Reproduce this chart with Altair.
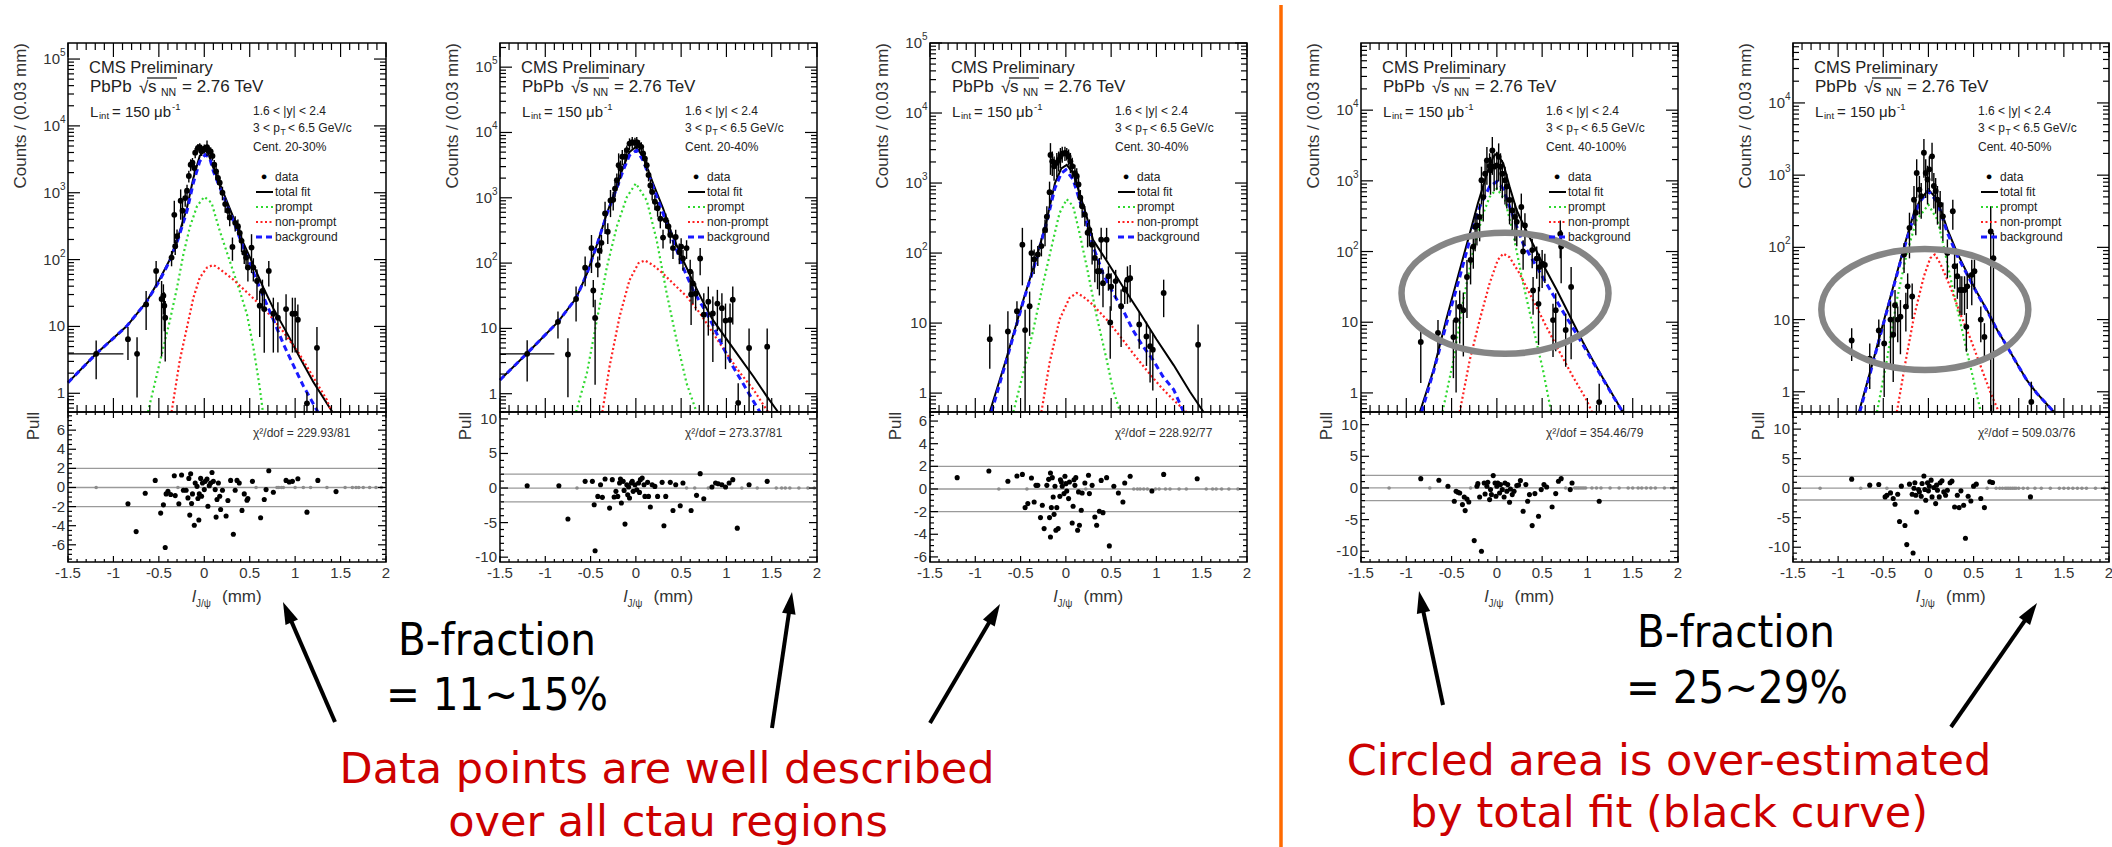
import math
import altair as alt
import pandas as pd

alt.data_transformers.disable_max_rows()

W, H = 2112, 847
UP_TOP, UP_BOT, PULL_BOT = 43, 412, 562
L_MIN, L_MAX = -1.5, 2.0
ROOT_FONT = "Liberation Sans"
INK = "#222222"

# ------------------------------------------------------------------
# Measurements for each centrality bin
# data points: (l_J/psi [mm], log10 counts, log10 of the error bar top)
# curves:      (l_J/psi [mm], log10 counts)
# pulls:       (l_J/psi [mm], pull); empty bins sit at pull 0
# ------------------------------------------------------------------
P1_POINTS = [(-1.19,0.59,0.79),(-0.84,0.81,0.99),(-0.74,0.59,0.84),(-0.64,1.33,1.53),(-0.53,1.83,1.98),
             (-0.47,1.41,1.68),(-0.45,1.46,1.63),(-0.44,1.31,1.51),(-0.43,1.13,1.38),(-0.36,2.03,2.13),
             (-0.32,2.20,2.30),(-0.33,2.67,2.88),(-0.30,2.35,2.45),(-0.26,2.88,3.05),(-0.24,2.73,2.88),
             (-0.21,2.92,3.02),(-0.19,3.03,3.12),(-0.17,3.25,3.33),(-0.15,3.42,3.50),(-0.13,3.45,3.52),
             (-0.11,3.37,3.45),(-0.10,3.60,3.67),(-0.07,3.67,3.73),(-0.05,3.68,3.74),(-0.03,3.62,3.68),
             (0.00,3.66,3.72),(0.03,3.68,3.78),(0.05,3.63,3.69),(0.07,3.62,3.68),(0.09,3.55,3.61),
             (0.11,3.42,3.49),(0.13,3.32,3.40),(0.15,3.22,3.30),(0.17,3.15,3.23),(0.20,3.00,3.09),
             (0.23,2.83,2.93),(0.26,2.73,2.83),(0.28,2.63,2.73),(0.31,2.19,2.33),(0.34,2.55,2.65),
             (0.37,2.50,2.60),(0.39,2.40,2.50),(0.41,2.28,2.40),(0.44,2.10,2.22),(0.46,2.03,2.15),
             (0.48,1.88,2.02),(0.52,2.18,2.38),(0.54,1.88,2.02),(0.58,1.68,1.85),(0.61,1.31,1.53),
             (0.64,1.53,1.70),(0.66,1.26,1.51),(0.71,1.83,1.98),(0.76,1.19,1.43),(0.81,1.13,1.36),
             (0.90,1.26,1.48),(0.97,1.19,1.43),(1.00,1.19,1.43),(1.03,1.10,1.33),(1.13,-0.15,0.02),
             (1.24,0.68,0.99)]
P1_TOTAL = [(-1.50,0.16),(-1.19,0.59),(-0.85,1.01),(-0.64,1.36),(-0.49,1.71),(-0.38,2.00),(-0.29,2.33),
            (-0.19,2.78),(-0.12,3.22),(-0.05,3.55),(0.00,3.63),(0.04,3.60),(0.10,3.37),(0.21,3.00),
            (0.32,2.63),(0.43,2.25),(0.54,1.92),(0.65,1.58),(0.76,1.27),(0.91,0.90),(1.05,0.54),
            (1.20,0.17),(1.41,-0.28)]
P1_BKG = [(-1.50,0.16),(-1.19,0.59),(-0.85,1.01),(-0.64,1.36),(-0.49,1.69),(-0.38,1.98),(-0.29,2.30),
          (-0.19,2.73),(-0.12,3.15),(-0.05,3.47),(0.01,3.57),(0.06,3.52),(0.10,3.32),(0.21,2.95),
          (0.32,2.58),(0.43,2.18),(0.54,1.81),(0.65,1.45),(0.76,1.10),(0.87,0.74),(0.98,0.42),
          (1.09,0.11),(1.25,-0.28)]
P1_PROMPT = [(-0.62,-0.28),(-0.52,0.29),(-0.45,0.69),(-0.38,1.08),(-0.30,1.58),(-0.23,2.08),(-0.16,2.48),
             (-0.08,2.80),(0.00,2.94),(0.08,2.85),(0.17,2.43),(0.28,1.98),(0.39,1.53),(0.47,1.18),
             (0.54,0.69),(0.61,0.09),(0.645,-0.28)]
P1_NONPROMPT = [(-0.36,-0.28),(-0.27,0.49),(-0.19,0.99),(-0.12,1.43),(-0.05,1.73),(0.03,1.88),(0.10,1.92),
                (0.17,1.86),(0.32,1.70),(0.54,1.42),(0.69,1.22),(0.87,0.92),(1.05,0.58),(1.24,0.15),
                (1.35,-0.10),(1.40,-0.28)]
P1_PULL = [(-0.84,-1.71),(-0.75,-4.62),(-0.65,-0.61),(-0.54,0.74),(-0.48,-2.68),(-0.45,-1.82),(-0.43,-6.28),
           (-0.42,-0.67),(-0.40,-0.40),(-0.37,-0.74),(-0.33,1.23),(-0.32,-0.85),(-0.28,-1.71),(-0.25,1.30),
           (-0.23,-0.29),(-0.20,-0.29),(-0.18,-1.09),(-0.17,0.95),(-0.16,-2.89),(-0.15,1.44),(-0.14,-1.68),
           (-0.13,-0.67),(-0.11,-3.96),(-0.10,0.47),(-0.08,0.12),(-0.07,-1.16),(-0.06,-3.41),(-0.055,-0.67),
           (-0.04,0.95),(-0.03,-0.92),(-0.02,0.47),(0.00,-0.22),(0.01,0.64),(0.03,0.88),(0.04,-1.96),
           (0.055,0.19),(0.07,0.47),(0.085,1.57),(0.10,0.64),(0.12,-0.22),(0.13,-3.10),(0.14,-1.26),
           (0.155,0.47),(0.17,-0.92),(0.18,-2.30),(0.20,-0.29),(0.24,-2.99),(0.26,-1.37),(0.29,0.74),
           (0.32,-4.90),(0.34,-0.29),(0.36,0.74),(0.385,0.47),(0.415,-2.40),(0.44,-0.67),(0.47,-1.33),
           (0.48,-1.16),(0.53,0.64),(0.62,-3.17),(0.66,-1.26),(0.68,-0.22),(0.71,1.75),(0.76,-0.50),
           (0.90,0.74),(0.935,0.57),(0.97,0.64),(1.03,0.92),(1.13,-2.58),(1.25,0.74),(1.45,-0.43)]
P1_EMPTY = [-1.19,-0.29,0.57,0.80,0.82,0.85,0.87,1.00,1.09,1.17,1.35,1.55,1.63,1.67,1.70,1.75,1.82,1.89,1.95]

P2_POINTS = [(-1.20,0.61,0.82),(-0.86,1.10,1.26),(-0.75,0.60,0.85),(-0.66,1.45,1.64),(-0.56,1.93,2.10),
             (-0.49,2.23,2.43),(-0.47,1.58,1.74),(-0.45,1.16,1.44),(-0.42,1.97,2.10),(-0.40,2.19,2.30),
             (-0.38,2.31,2.43),(-0.34,2.76,2.94),(-0.31,2.48,2.61),(-0.28,2.96,3.12),(-0.25,2.97,3.09),
             (-0.23,3.14,3.24),(-0.21,3.27,3.37),(-0.19,3.50,3.68),(-0.17,3.45,3.57),(-0.15,3.63,3.73),
             (-0.12,3.63,3.72),(-0.10,3.73,3.80),(-0.07,3.83,3.91),(-0.04,3.85,3.93),(-0.01,3.84,3.92),
             (0.01,3.85,3.93),(0.04,3.80,3.88),(0.06,3.78,3.85),(0.08,3.68,3.75),(0.10,3.60,3.68),
             (0.12,3.50,3.58),(0.14,3.35,3.43),(0.16,3.19,3.28),(0.18,3.09,3.19),(0.21,2.94,3.04),
             (0.24,2.84,2.94),(0.27,2.68,2.79),(0.30,2.39,2.51),(0.33,2.66,2.76),(0.36,2.56,2.66),
             (0.38,2.43,2.53),(0.41,2.23,2.35),(0.44,2.40,2.51),(0.48,2.17,2.30),(0.50,2.25,2.38),
             (0.52,2.07,2.20),(0.56,2.23,2.35),(0.60,1.87,2.05),(0.61,1.52,1.74),(0.63,1.69,1.87),
             (0.66,1.53,1.69),(0.71,2.07,2.23),(0.75,1.21,1.54),(0.80,1.41,1.64),(0.85,1.23,1.49),
             (0.90,1.38,1.59),(0.95,1.31,1.54),(0.99,1.12,1.38),(1.04,1.13,1.38),(1.07,1.44,1.64),
             (1.13,-0.14,0.16),(1.25,0.70,1.00),(1.45,0.72,1.00)]
P2_TOTAL = [(-1.50,0.21),(-1.20,0.62),(-0.86,1.10),(-0.66,1.46),(-0.54,1.84),(-0.43,2.28),(-0.32,2.76),
            (-0.21,3.19),(-0.14,3.47),(-0.07,3.70),(0.00,3.78),(0.08,3.63),(0.19,3.22),(0.30,2.84),
            (0.41,2.40),(0.52,2.05),(0.63,1.72),(0.74,1.41),(0.85,1.13),(1.00,0.84),(1.15,0.55),
            (1.30,0.26),(1.44,-0.03),(1.57,-0.28)]
P2_BKG = [(-1.50,0.21),(-1.20,0.62),(-0.86,1.10),(-0.66,1.46),(-0.54,1.84),(-0.43,2.28),(-0.32,2.75),
          (-0.21,3.15),(-0.14,3.42),(-0.07,3.65),(0.01,3.73),(0.08,3.57),(0.19,3.17),(0.30,2.76),
          (0.41,2.35),(0.52,1.94),(0.63,1.59),(0.74,1.33),(0.85,1.05),(0.96,0.72),(1.07,0.42),
          (1.19,0.14),(1.30,-0.12),(1.37,-0.28)]
P2_PROMPT = [(-0.66,-0.28),(-0.54,0.32),(-0.43,1.13),(-0.32,1.94),(-0.21,2.56),(-0.10,3.01),(0.00,3.22),
             (0.12,2.96),(0.23,2.35),(0.34,1.54),(0.45,0.82),(0.56,0.16),(0.67,-0.28)]
P2_NONPROMPT = [(-0.37,-0.28),(-0.29,0.42),(-0.18,1.18),(-0.07,1.74),(0.03,2.00),(0.10,2.04),(0.19,1.97),
                (0.30,1.84),(0.41,1.69),(0.56,1.49),(0.71,1.23),(0.85,0.93),(1.00,0.62),(1.15,0.32),
                (1.30,0.06),(1.46,-0.28)]
P2_PULL = [(-1.20,0.34),(-0.85,0.34),(-0.75,-4.49),(-0.56,0.97),(-0.48,0.97),(-0.46,-2.42),(-0.45,-9.08),
           (-0.42,-1.21),(-0.39,0.48),(-0.37,-1.35),(-0.34,1.30),(-0.29,-2.90),(-0.26,1.21),(-0.24,-1.30),
           (-0.22,-0.48),(-0.20,-1.21),(-0.18,0.72),(-0.17,1.30),(-0.16,-2.17),(-0.14,0.97),(-0.13,-0.34),
           (-0.12,-5.22),(-0.10,0.48),(-0.09,-0.97),(-0.08,0.14),(-0.07,-1.45),(-0.05,0.72),(-0.04,0.97),
           (-0.03,-0.48),(-0.01,0.48),(0.01,-0.24),(0.03,0.72),(0.04,-0.63),(0.05,1.21),(0.07,1.45),
           (0.09,0.48),(0.10,-1.21),(0.13,0.82),(0.14,-1.21),(0.16,-2.75),(0.18,0.48),(0.21,0.24),
           (0.24,-1.21),(0.29,0.82),(0.31,-5.46),(0.33,-1.21),(0.38,0.82),(0.41,-3.24),(0.44,0.48),
           (0.49,-2.56),(0.52,0.72),(0.61,-3.24),(0.67,-1.06),(0.71,2.08),(0.75,-1.55),(0.84,0.14),
           (0.88,0.72),(0.91,0.63),(0.95,0.48),(0.99,0.14),(1.03,0.72),(1.07,1.21),(1.12,-5.80),
           (1.25,0.48),(1.45,0.97)]
P2_EMPTY = [-0.65,0.56,0.65,0.80,1.17,1.34,1.55,1.61,1.65,1.70,1.80,1.90,1.97]

P3_POINTS = [(-0.84,0.77,0.98),(-0.64,0.88,1.17),(-0.54,1.17,1.31),(-0.48,2.12,2.36),(-0.45,0.90,1.19),
             (-0.40,1.24,1.45),(-0.38,2.00,2.19),(-0.35,1.91,2.05),(-0.31,1.98,2.10),(-0.27,2.10,2.21),
             (-0.23,2.33,2.48),(-0.21,2.52,2.67),(-0.18,2.87,3.02),(-0.17,3.40,3.57),(-0.15,3.31,3.45),
             (-0.13,3.24,3.38),(-0.10,3.29,3.43),(-0.08,3.33,3.45),(-0.06,3.38,3.50),(-0.04,3.42,3.52),
             (-0.01,3.43,3.52),(0.01,3.42,3.50),(0.03,3.38,3.48),(0.05,3.31,3.43),(0.07,3.24,3.36),
             (0.10,3.14,3.26),(0.12,3.10,3.21),(0.14,2.98,3.10),(0.16,2.79,2.90),(0.18,2.67,2.79),
             (0.21,2.55,2.67),(0.24,2.29,2.43),(0.26,2.33,2.48),(0.29,2.12,2.29),(0.32,1.93,2.12),
             (0.35,1.74,1.90),(0.37,1.74,1.93),(0.39,2.19,2.36),(0.41,1.57,1.76),(0.45,2.19,2.36),
             (0.47,1.67,1.81),(0.49,1.01,1.24),(0.50,1.52,1.71),(0.55,1.60,1.76),(0.61,1.24,1.48),
             (0.65,1.48,1.62),(0.68,1.62,1.81),(0.71,1.64,1.83),(0.81,0.98,1.17),(0.89,0.81,1.02),
             (0.93,0.67,0.90),(0.96,0.62,0.86),(1.08,1.43,1.62),(1.46,0.69,0.98)]
P3_TOTAL = [(-0.84,-0.27),(-0.66,0.48),(-0.47,1.33),(-0.32,1.95),(-0.21,2.48),(-0.12,3.00),(-0.05,3.21),
            (0.01,3.26),(0.08,3.14),(0.15,2.86),(0.23,2.52),(0.30,2.19),(0.45,1.89),(0.63,1.52),
            (0.82,1.14),(1.00,0.77),(1.19,0.40),(1.37,0.02),(1.52,-0.27)]
P3_BKG = [(-0.82,-0.27),(-0.66,0.45),(-0.47,1.31),(-0.32,1.93),(-0.21,2.45),(-0.12,2.93),(-0.05,3.14),
          (0.00,3.19),(0.08,3.05),(0.15,2.76),(0.23,2.43),(0.30,2.10),(0.41,1.71),(0.52,1.43),
          (0.63,1.19),(0.74,0.90),(0.85,0.67),(0.96,0.48),(1.07,0.24),(1.19,0.05),(1.30,-0.27)]
P3_PROMPT = [(-0.58,-0.27),(-0.47,0.29),(-0.36,0.90),(-0.25,1.57),(-0.14,2.19),(-0.07,2.57),(0.01,2.77),
             (0.08,2.67),(0.15,2.29),(0.23,1.81),(0.34,1.10),(0.45,0.48),(0.52,0.05),(0.60,-0.27)]
P3_NONPROMPT = [(-0.27,-0.27),(-0.18,0.43),(-0.07,1.05),(0.04,1.36),(0.12,1.43),(0.19,1.38),(0.30,1.26),
                (0.45,1.05),(0.60,0.81),(0.74,0.57),(0.89,0.33),(1.04,0.10),(1.19,-0.10),(1.33,-0.27)]
P3_PULL = [(-1.20,1.00),(-0.85,1.59),(-0.64,0.68),(-0.54,1.15),(-0.48,1.29),(-0.45,-1.65),(-0.42,-1.29),
           (-0.38,0.97),(-0.35,-1.15),(-0.33,0.32),(-0.31,0.32),(-0.28,-2.53),(-0.26,-1.44),(-0.24,-3.50),
           (-0.21,0.32),(-0.19,0.85),(-0.18,-2.53),(-0.17,1.41),(-0.17,-4.24),(-0.16,-1.65),(-0.15,1.00),
           (-0.14,-0.71),(-0.13,-2.24),(-0.12,0.24),(-0.11,-3.65),(-0.10,-1.65),(-0.085,-3.50),(-0.066,-0.65),
           (-0.06,0.82),(-0.05,0.62),(-0.04,0.24),(-0.02,-0.41),(-0.01,1.12),(0.00,0.47),(0.01,-0.18),
           (0.03,-0.85),(0.04,0.62),(0.07,-3.00),(0.08,-1.53),(0.09,0.82),(0.10,0.32),(0.11,1.00),
           (0.13,-3.65),(0.14,-0.26),(0.15,-3.21),(0.17,-1.88),(0.18,-0.35),(0.21,0.53),(0.25,1.21),
           (0.26,-0.41),(0.29,0.32),(0.32,-2.47),(0.34,-3.21),(0.37,-1.97),(0.39,0.76),(0.41,-2.09),
           (0.45,1.00),(0.48,-5.03),(0.53,0.24),(0.58,-0.35),(0.63,-1.15),(0.65,0.53),(0.71,1.12),
           (0.95,-0.18),(1.08,1.29),(1.45,0.91)]
P3_EMPTY = [-0.74,-0.43,0.22,0.75,0.79,0.82,0.86,0.90,0.99,1.03,1.10,1.15,1.25,1.33,1.55,1.62,1.66,1.72,1.80,1.90]

P4_POINTS = [(-0.84,0.72,0.96),(-0.65,0.85,1.03),(-0.48,0.79,1.03),(-0.45,1.03,1.31),(-0.41,1.22,1.45),
             (-0.37,1.17,1.42),(-0.33,1.64,1.88),(-0.29,1.88,2.07),(-0.26,2.07,2.25),(-0.24,2.35,2.54),
             (-0.22,2.37,2.54),(-0.19,2.49,2.68),(-0.17,3.01,3.20),(-0.15,2.77,2.96),(-0.13,3.10,3.29),
             (-0.11,3.29,3.48),(-0.08,3.21,3.39),(-0.07,3.15,3.34),(-0.05,3.43,3.62),(-0.03,3.20,3.39),
             (0.00,3.22,3.41),(0.02,3.34,3.53),(0.04,3.20,3.39),(0.06,3.10,3.29),(0.09,3.01,3.20),
             (0.11,2.92,3.10),(0.14,2.73,2.92),(0.17,2.58,2.77),(0.20,2.49,2.68),(0.22,2.42,2.61),
             (0.27,2.63,2.82),(0.29,2.00,2.16),(0.31,2.37,2.54),(0.39,2.02,2.18),(0.40,1.45,1.64),
             (0.44,1.90,2.07),(0.46,1.26,1.50),(0.47,1.78,1.97),(0.50,1.83,2.02),(0.53,1.81,1.97),
             (0.62,1.03,1.26),(0.65,1.17,1.41),(0.70,2.25,2.44),(0.71,2.07,2.30),(0.76,0.89,1.12),
             (0.82,1.50,1.78),(1.13,-0.13,0.13)]
P4_TOTAL = [(-0.85,-0.28),(-0.70,0.32),(-0.56,1.03),(-0.41,1.74),(-0.30,2.25),(-0.21,2.68),(-0.11,3.10),
            (-0.04,3.34),(0.00,3.39),(0.07,3.25),(0.14,2.92),(0.22,2.58),(0.33,2.28),(0.44,2.00),
            (0.55,1.72),(0.66,1.46),(0.77,1.18),(0.84,1.00),(0.95,0.72),(1.06,0.46),(1.17,0.21),
            (1.28,-0.03),(1.39,-0.28)]
P4_BKG = [(-0.83,-0.28),(-0.70,0.30),(-0.56,0.96),(-0.41,1.64),(-0.30,2.16),(-0.19,2.63),(-0.08,2.92),
          (0.00,2.99),(0.07,2.89),(0.18,2.49),(0.29,2.11),(0.40,1.87),(0.51,1.63),(0.62,1.39),
          (0.73,1.15),(0.84,0.92),(0.95,0.68),(1.06,0.44),(1.17,0.20),(1.28,-0.04),(1.39,-0.28)]
P4_PROMPT = [(-0.60,-0.28),(-0.48,0.46),(-0.37,1.31),(-0.26,2.02),(-0.15,2.54),(-0.08,2.77),(0.00,2.89),
             (0.09,2.73),(0.18,2.25),(0.29,1.55),(0.40,0.93),(0.51,0.32),(0.60,-0.28)]
P4_NONPROMPT = [(-0.41,-0.28),(-0.30,0.46),(-0.19,1.03),(-0.08,1.55),(0.01,1.88),(0.07,1.97),(0.14,1.92),
                (0.25,1.69),(0.40,1.31),(0.55,0.93),(0.70,0.56),(0.84,0.23),(0.99,-0.10),(1.05,-0.28)]
P4_PULL = [(-0.84,1.47),(-0.64,1.21),(-0.54,0.26),(-0.47,-2.11),(-0.45,-0.53),(-0.43,-0.68),(-0.41,-0.79),
           (-0.38,-2.63),(-0.36,-1.42),(-0.35,-3.58),(-0.33,-1.74),(-0.31,-2.21),(-0.25,-8.32),(-0.22,0.26),
           (-0.21,0.68),(-0.19,-1.42),(-0.17,-10.0),(-0.14,0.79),(-0.13,-0.95),(-0.11,0.26),(-0.10,0.89),
           (-0.08,-1.84),(-0.07,-0.26),(-0.06,-1.05),(-0.04,1.95),(-0.02,0.79),(-0.01,-1.32),(0.00,0.26),
           (0.01,0.79),(0.03,-0.79),(0.04,0.53),(0.06,-0.26),(0.08,-1.42),(0.09,0.79),(0.11,-0.53),
           (0.12,0.53),(0.14,-2.26),(0.15,-0.16),(0.17,-1.05),(0.19,-0.53),(0.22,0.37),(0.24,0.47),
           (0.26,1.16),(0.29,-3.68),(0.32,0.53),(0.34,-2.11),(0.36,-1.05),(0.39,-5.95),(0.42,-0.89),
           (0.46,-4.47),(0.49,-0.26),(0.52,0.53),(0.55,0.16),(0.61,-3.00),(0.65,-0.89),(0.68,1.05),
           (0.71,1.47),(0.81,-0.26),(0.83,0.79),(1.13,-2.11)]
P4_EMPTY = [-1.19,-0.74,-0.29,0.76,0.86,0.88,0.90,0.92,0.94,0.96,0.98,1.05,1.10,1.15,1.25,1.35,1.45,
            1.50,1.56,1.60,1.65,1.70,1.75,1.85,1.95]

P5_POINTS = [(-0.85,0.71,0.88),(-0.65,0.46,0.67),(-0.55,0.85,1.00),(-0.49,0.67,0.93),(-0.42,1.00,1.25),
             (-0.39,0.79,1.04),(-0.37,1.20,1.41),(-0.34,1.00,1.18),(-0.31,1.04,1.27),(-0.27,1.90,2.06),
             (-0.25,1.18,1.37),(-0.23,1.46,1.64),(-0.21,2.27,2.48),(-0.18,1.32,1.50),(-0.16,2.66,2.85),
             (-0.14,2.48,2.66),(-0.13,3.03,3.22),(-0.10,2.80,2.99),(-0.08,2.71,2.89),(-0.05,3.31,3.50),
             (-0.03,3.03,3.22),(-0.01,2.94,3.13),(0.01,3.08,3.26),(0.04,3.26,3.45),(0.06,2.85,3.03),
             (0.08,2.78,2.96),(0.10,2.66,2.85),(0.13,2.59,2.78),(0.16,2.43,2.62),(0.21,1.92,2.11),
             (0.27,2.50,2.66),(0.29,1.74,1.92),(0.32,1.60,1.78),(0.35,1.41,1.60),(0.37,1.41,1.60),
             (0.40,1.41,1.60),(0.42,0.90,1.09),(0.43,1.46,1.64),(0.48,1.62,1.83),(0.51,1.67,1.83),
             (0.58,1.00,1.18),(0.62,0.76,0.95),(0.69,2.22,2.57),(0.72,1.85,2.20),(1.14,-0.14,0.14)]
P5_TOTAL = [(-0.77,-0.29),(-0.64,0.30),(-0.49,1.00),(-0.38,1.50),(-0.27,2.01),(-0.16,2.48),(-0.09,2.66),
            (0.00,2.80),(0.10,2.66),(0.21,2.25),(0.32,1.92),(0.43,1.64),(0.54,1.37),(0.65,1.13),
            (0.76,0.86),(0.87,0.63),(0.98,0.39),(1.09,0.16),(1.20,-0.02),(1.39,-0.29)]
P5_BKG = [(-0.76,-0.29),(-0.64,0.28),(-0.49,0.98),(-0.38,1.48),(-0.27,1.98),(-0.16,2.44),(-0.09,2.64),
          (0.00,2.78),(0.10,2.62),(0.21,2.20),(0.32,1.88),(0.43,1.62),(0.54,1.36),(0.65,1.12),
          (0.76,0.86),(0.87,0.63),(0.98,0.39),(1.09,0.16),(1.20,-0.02),(1.39,-0.29)]
P5_PROMPT = [(-0.57,-0.29),(-0.46,0.44),(-0.35,1.27),(-0.24,1.92),(-0.13,2.38),(0.00,2.59),(0.10,2.38),
             (0.17,2.01),(0.28,1.37),(0.39,0.76),(0.50,0.16),(0.58,-0.29)]
P5_NONPROMPT = [(-0.35,-0.29),(-0.25,0.44),(-0.16,1.04),(-0.05,1.60),(0.02,1.85),(0.07,1.90),(0.13,1.78),
                (0.24,1.46),(0.35,1.09),(0.47,0.72),(0.58,0.35),(0.69,-0.02),(0.78,-0.29)]
P5_PULL = [(-0.85,1.53),(-0.65,0.51),(-0.55,0.63),(-0.48,-1.48),(-0.46,-1.19),(-0.42,-0.80),(-0.39,-1.76),
           (-0.37,-2.73),(-0.34,-1.02),(-0.32,-5.63),(-0.30,0.34),(-0.26,-6.31),(-0.24,-9.55),(-0.21,0.68),
           (-0.18,-1.02),(-0.17,-10.97),(-0.16,0.00),(-0.15,0.91),(-0.14,-1.19),(-0.13,-4.03),(-0.11,-0.23),
           (-0.10,-0.63),(-0.08,-1.36),(-0.07,0.80),(-0.05,2.05),(-0.04,-0.23),(-0.03,-2.05),(-0.01,0.91),
           (0.00,-0.45),(0.01,0.34),(0.03,1.36),(0.04,-1.48),(0.06,0.11),(0.08,-2.61),(0.09,0.51),
           (0.10,-0.34),(0.12,-1.48),(0.13,0.91),(0.15,1.25),(0.17,-0.63),(0.19,-1.19),(0.21,-0.34),
           (0.24,0.91),(0.26,1.19),(0.29,-3.18),(0.32,-1.19),(0.34,-3.30),(0.36,-0.45),(0.39,-2.90),
           (0.41,-8.47),(0.44,-1.36),(0.47,-2.16),(0.50,0.34),(0.53,0.68),(0.58,-1.76),(0.62,-3.30),
           (0.68,1.08),(0.71,0.97),(1.13,-1.48)]
P5_EMPTY = [-1.20,-0.75,-0.46,0.65,0.75,0.79,0.82,0.85,0.87,0.89,0.91,0.93,0.95,0.97,1.00,1.05,1.10,
            1.18,1.25,1.35,1.45,1.50,1.55,1.60,1.65,1.70,1.75,1.85,1.95]

CENTRALITY = ["Cent. 20-30%", "Cent. 20-40%", "Cent. 30-40%", "Cent. 40-100%", "Cent. 40-50%"]
CHI2 = ["229.93/81", "273.37/81", "228.92/77", "354.46/79", "509.03/76"]
X_TICK_LABELS = [-1.5, -1.0, -0.5, 0.0, 0.5, 1.0, 1.5, 2.0]

PANELS = [
    dict(x0=68, x1=386, up=(-0.28, 5.24), pull=(-7.8, 7.9), pmaj=2, pmin=0.5,
         points=P1_POINTS, wide=(-1.5, -0.89, 0.59), total=P1_TOTAL, prompt=P1_PROMPT,
         nonprompt=P1_NONPROMPT, bkg=P1_BKG, pulls=P1_PULL, empty=P1_EMPTY, ring=None),
    dict(x0=500, x1=817, up=(-0.28, 5.37), pull=(-10.7, 11.0), pmaj=5, pmin=1,
         points=P2_POINTS, wide=(-1.5, -0.90, 0.61), total=P2_TOTAL, prompt=P2_PROMPT,
         nonprompt=P2_NONPROMPT, bkg=P2_BKG, pulls=P2_PULL, empty=P2_EMPTY, ring=None),
    dict(x0=930, x1=1247, up=(-0.27, 5.0), pull=(-6.45, 6.8), pmaj=2, pmin=0.5,
         points=P3_POINTS, wide=None, total=P3_TOTAL, prompt=P3_PROMPT,
         nonprompt=P3_NONPROMPT, bkg=P3_BKG, pulls=P3_PULL, empty=P3_EMPTY, ring=None),
    dict(x0=1361, x1=1678, up=(-0.27, 4.95), pull=(-11.7, 12.0), pmaj=5, pmin=1,
         points=P4_POINTS, wide=None, total=P4_TOTAL, prompt=P4_PROMPT,
         nonprompt=P4_NONPROMPT, bkg=P4_BKG, pulls=P4_PULL, empty=P4_EMPTY, ring=(0.09, 1.41)),
    dict(x0=1793, x1=2109, up=(-0.28, 4.83), pull=(-12.5, 12.9), pmaj=5, pmin=1,
         points=P5_POINTS, wide=None, total=P5_TOTAL, prompt=P5_PROMPT,
         nonprompt=P5_NONPROMPT, bkg=P5_BKG, pulls=P5_PULL, empty=P5_EMPTY, ring=(-0.04, 1.14)),
]

CURVES = [("total", "#000000", None, 2.0),
          ("prompt", "#2fd82f", [2, 3], 2.2),
          ("nonprompt", "#ff2020", [2, 2.5], 2.2),
          ("bkg", "#1a1aff", [6, 4], 3.0)]

# unit ellipse outline for the highlighted region
RING_W = 207
ELLIPSE = ("M-1,0C-1,-0.323,-0.552,-0.585,0,-0.585C0.552,-0.585,1,-0.323,1,0"
           "C1,0.323,0.552,0.585,0,0.585C-0.552,0.585,-1,0.323,-1,0Z")
HEAD = "M0,-1L0.62,1L-0.62,1Z"


def text_layer(rows, **style):
    df = pd.DataFrame(rows, columns=["x", "y", "t"])
    mk = dict(font=ROOT_FONT, fontSize=12, color=INK, align="left", baseline="middle")
    mk.update(style)
    return alt.Chart(df).mark_text(**mk).encode(
        x=alt.X("x:Q", scale=None), y=alt.Y("y:Q", scale=None), text="t:N")


def rule_layer(rows, **style):
    df = pd.DataFrame(rows, columns=["x", "y", "x2", "y2"])
    return alt.Chart(df).mark_rule(**style).encode(
        x=alt.X("x:Q", scale=None), y=alt.Y("y:Q", scale=None), x2="x2:Q", y2="y2:Q")


def fmt(v):
    return "%g" % v


def panel_layers(p):
    x0, x1 = p["x0"], p["x1"]
    lo, hi = p["up"]
    X = alt.Scale(domain=[L_MIN, L_MAX], range=[x0, x1], nice=False, zero=False)
    YU = alt.Scale(type="log", domain=[10 ** lo, 10 ** hi], range=[UP_BOT, UP_TOP], nice=False, clamp=True)
    YP = alt.Scale(domain=list(p["pull"]), range=[PULL_BOT, UP_BOT], nice=False, zero=False)

    def xq(f):
        return alt.X(f, scale=X, axis=None)

    def yu(f):
        return alt.Y(f, scale=YU, axis=None)

    def yp(f):
        return alt.Y(f, scale=YP, axis=None)

    layers = []

    # fit components
    for key, color, dash, width in CURVES:
        df = pd.DataFrame([{"l": l, "n": 10 ** v} for l, v in p[key]])
        mk = dict(color=color, strokeWidth=width)
        if dash:
            mk["strokeDash"] = dash
        layers.append(alt.Chart(df).mark_line(**mk).encode(x=xq("l:Q"), y=yu("n:Q")))

    # data with error bars
    rows = []
    for l, v, vh in p["points"]:
        n, top = 10 ** v, 10 ** vh
        rows.append({"l": l, "n": n, "lo": max(2 * n - top, 1e-3), "hi": top})
    pts = pd.DataFrame(rows)
    layers.append(alt.Chart(pts).mark_rule(color="black", strokeWidth=1.4).encode(
        x=xq("l:Q"), y=yu("lo:Q"), y2="hi:Q"))
    if p["wide"]:
        a, b, v = p["wide"]
        layers.append(alt.Chart(pd.DataFrame([{"a": a, "b": b, "n": 10 ** v}]))
                      .mark_rule(color="black", strokeWidth=1.4)
                      .encode(x=xq("a:Q"), x2="b:Q", y=yu("n:Q")))
    layers.append(alt.Chart(pts).mark_circle(size=34, color="black", opacity=1).encode(
        x=xq("l:Q"), y=yu("n:Q")))

    if p["ring"]:
        l, v = p["ring"]
        layers.append(alt.Chart(pd.DataFrame([{"l": l, "n": 10 ** v}]))
                      .mark_point(shape=ELLIPSE, size=RING_W ** 2, filled=False, strokeWidth=6.5,
                                  color="#858585", opacity=1)
                      .encode(x=xq("l:Q"), y=yu("n:Q")))

    # frames
    layers.append(alt.Chart(pd.DataFrame([{"a": L_MIN, "b": L_MAX, "c": 10 ** lo, "d": 10 ** hi}]))
                  .mark_rect(fillOpacity=0, stroke="black", strokeWidth=1.5)
                  .encode(x=xq("a:Q"), x2="b:Q", y=yu("c:Q"), y2="d:Q"))
    plo, phi = p["pull"]
    layers.append(alt.Chart(pd.DataFrame([{"a": L_MIN, "b": L_MAX, "c": plo, "d": phi}]))
                  .mark_rect(fillOpacity=0, stroke="black", strokeWidth=1.5)
                  .encode(x=xq("a:Q"), x2="b:Q", y=yp("c:Q"), y2="d:Q"))

    # pull panel
    layers.append(alt.Chart(pd.DataFrame({"v": [-2, 0, 2], "a": [L_MIN] * 3, "b": [L_MAX] * 3}))
                  .mark_rule(color="#9a9a9a", strokeWidth=1.3)
                  .encode(x=xq("a:Q"), x2="b:Q", y=yp("v:Q")))
    layers.append(alt.Chart(pd.DataFrame({"l": p["empty"], "v": [0.0] * len(p["empty"])}))
                  .mark_circle(size=13, color="#8c8c8c", opacity=1)
                  .encode(x=xq("l:Q"), y=yp("v:Q")))
    layers.append(alt.Chart(pd.DataFrame(p["pulls"], columns=["l", "v"]))
                  .mark_circle(size=26, color="black", opacity=1)
                  .encode(x=xq("l:Q"), y=yp("v:Q")))

    # x ticks on both frames
    xt = []
    for i in range(36):
        v = round(L_MIN + 0.1 * i, 2)
        major = abs(v * 2 - round(v * 2)) < 1e-6
        lu, lp = (14, 6) if major else (7, 3)
        xt += [dict(v=v, a=UP_BOT, b=UP_BOT - lu), dict(v=v, a=UP_TOP, b=UP_TOP + lu),
               dict(v=v, a=UP_BOT, b=UP_BOT + lp), dict(v=v, a=PULL_BOT, b=PULL_BOT - lp)]
    layers.append(alt.Chart(pd.DataFrame(xt)).mark_rule(color="black", strokeWidth=1.2)
                  .encode(x=xq("v:Q"), y=alt.Y("a:Q", scale=None), y2="b:Q"))

    # y ticks of the log frame
    yt = []
    for d in range(-1, 6):
        for k in range(1, 10):
            v = k * 10 ** d
            if lo - 1e-9 <= math.log10(v) <= hi + 1e-9:
                ln = 12 if k == 1 else 6
                yt += [dict(v=v, a=x0, b=x0 + ln), dict(v=v, a=x1, b=x1 - ln)]
    layers.append(alt.Chart(pd.DataFrame(yt)).mark_rule(color="black", strokeWidth=1.2)
                  .encode(y=yu("v:Q"), x=alt.X("a:Q", scale=None), x2="b:Q"))

    # y ticks of the pull frame
    pt = []
    pmaj, pmin = p["pmaj"], p["pmin"]
    for i in range(math.ceil(plo / pmin), math.floor(phi / pmin) + 1):
        v = i * pmin
        major = abs(v / pmaj - round(v / pmaj)) < 1e-6
        ln = 8 if major else 4
        pt += [dict(v=v, a=x0, b=x0 + ln), dict(v=v, a=x1, b=x1 - ln)]
    layers.append(alt.Chart(pd.DataFrame(pt)).mark_rule(color="black", strokeWidth=1.2)
                  .encode(y=yp("v:Q"), x=alt.X("a:Q", scale=None), x2="b:Q"))

    # tick labels
    lab = dict(font=ROOT_FONT, fontSize=15, color="#333333", baseline="middle")
    layers.append(alt.Chart(pd.DataFrame({"v": X_TICK_LABELS, "t": [fmt(v) for v in X_TICK_LABELS]}))
                  .mark_text(align="center", **lab)
                  .encode(x=xq("v:Q"), y=alt.value(573), text="t:N"))
    plain, base, expo = [], [], []
    for d in range(0, 6):
        if lo <= d <= hi + 0.01:
            if d < 2:
                plain.append({"v": 10 ** d, "t": fmt(10 ** d)})
            else:
                base.append({"v": 10 ** d, "t": "10"})
                expo.append({"v": 10 ** d, "t": str(d)})
    layers.append(alt.Chart(pd.DataFrame(plain)).mark_text(align="right", **lab)
                  .encode(y=yu("v:Q"), x=alt.value(x0 - 3), text="t:N"))
    layers.append(alt.Chart(pd.DataFrame(base)).mark_text(align="right", **lab)
                  .encode(y=yu("v:Q"), x=alt.value(x0 - 8), text="t:N"))
    layers.append(alt.Chart(pd.DataFrame(expo))
                  .mark_text(align="left", font=ROOT_FONT, fontSize=10, color="#333333",
                             baseline="middle", dy=-6)
                  .encode(y=yu("v:Q"), x=alt.value(x0 - 8), text="t:N"))
    pv = [i * pmaj for i in range(math.ceil(plo / pmaj), math.floor(phi / pmaj) + 1)]
    layers.append(alt.Chart(pd.DataFrame({"v": pv, "t": [fmt(v) for v in pv]}))
                  .mark_text(align="right", **lab)
                  .encode(y=yp("v:Q"), x=alt.value(x0 - 3), text="t:N"))
    return layers


layers = []
for p in PANELS:
    layers += panel_layers(p)

# ---- panel texts, legends and axis titles (pixel space) ----
cms, big, sub, lint, lsub, info, isub, chi, titles, xt_l, xt_s, xt_m = ([] for _ in range(12))
leg_dot, leg_txt = [], []
bars = []
leg_lines = {k: [] for k, *_ in CURVES}
for p, cent, c2 in zip(PANELS, CENTRALITY, CHI2):
    x0, x1 = p["x0"], p["x1"]
    cx = (x0 + x1) / 2
    cms.append((x0 + 21, 68, "CMS Preliminary"))
    big += [(x0 + 22, 87, "PbPb"), (x0 + 71, 88, "\u221a"), (x0 + 80, 87, "s"), (x0 + 114, 87, "= 2.76 TeV")]
    sub.append((x0 + 93, 93, "NN"))
    bars.append((x0 + 79, 78, x0 + 109, 78))
    lint += [(x0 + 22, 112, "L"), (x0 + 44, 112, "= 150 \u03bcb")]
    lsub += [(x0 + 31, 116, "int"), (x0 + 104, 107, "-1")]
    info += [(x0 + 185, 111, "1.6 < |y| < 2.4"), (x0 + 185, 128, "3 < p"),
             (x0 + 220, 128, "< 6.5 GeV/c"), (x0 + 185, 147, cent)]
    isub.append((x0 + 212.5, 132, "T"))
    chi.append((x0 + 185, 433, "\u03c7\u00b2/dof = " + c2))
    leg_dot.append((x0 + 196, 177, "\u25cf"))
    for y, t in zip([177, 192, 207, 222, 237], ["data", "total fit", "prompt", "non-prompt", "background"]):
        leg_txt.append((x0 + 207, y, t))
    for (k, *_), y in zip(CURVES, [192, 207, 222, 237]):
        leg_lines[k].append((x0 + 188, y, x0 + 205, y))
    titles += [(x0 - 47, 43, "Counts / (0.03 mm)"), (x0 - 34, 412, "Pull")]
    xt_l.append((cx - 35, 597, "l"))
    xt_s.append((cx - 31, 604, "J/\u03c8"))
    xt_m.append((cx - 5, 597, "(mm)"))

layers += [
    text_layer(cms, fontSize=16.5),
    text_layer(big, fontSize=17),
    text_layer(sub, fontSize=10.5),
    rule_layer(bars, color=INK, strokeWidth=1.3),
    text_layer(lint, fontSize=15),
    text_layer(lsub, fontSize=9.5),
    text_layer(info, fontSize=12),
    text_layer(isub, fontSize=8.5),
    text_layer(chi, fontSize=12, color="#333333"),
    text_layer(leg_dot, fontSize=11, color="black", align="center"),
    text_layer(leg_txt, fontSize=12),
    text_layer(titles, fontSize=17, color="#333333", angle=270, align="right"),
    text_layer(xt_l, fontSize=17, color="#333333", fontStyle="italic"),
    text_layer(xt_s, fontSize=10, color="#333333"),
    text_layer(xt_m, fontSize=17, color="#333333"),
]
for key, color, dash, width in CURVES:
    st = dict(color=color, strokeWidth=width)
    if dash:
        st["strokeDash"] = dash
    layers.append(rule_layer(leg_lines[key], **st))

# ---- slide annotations ----
ARROWS = [((335, 722), (283, 602)), ((772, 728), (792, 592)), ((930, 723), (1000, 604)),
          ((1443, 705), (1419, 591)), ((1951, 727), (2037, 603))]
HEAD_LEN = 22
shafts, heads = [], []
for (tx, ty), (hx, hy) in ARROWS:
    dx, dy = hx - tx, hy - ty
    r = math.hypot(dx, dy)
    ux, uy = dx / r, dy / r
    cx_, cy_ = hx - ux * HEAD_LEN / 2, hy - uy * HEAD_LEN / 2
    shafts.append((tx, ty, cx_, cy_))
    heads.append({"x": cx_, "y": cy_, "ang": math.degrees(math.atan2(dx, -dy)) % 360})
layers.append(rule_layer(shafts, color="black", strokeWidth=4))
layers.append(alt.Chart(pd.DataFrame(heads))
              .mark_point(shape=HEAD, size=HEAD_LEN ** 2, filled=True, color="black", opacity=1)
              .encode(x=alt.X("x:Q", scale=None), y=alt.Y("y:Q", scale=None),
                      angle=alt.Angle("ang:Q", scale=None)))

layers.append(rule_layer([(1281, 5, 1281, H)], color="#ff6a00", strokeWidth=3.5))

SLIDE_FONT = "DejaVu Sans"
layers.append(text_layer([(497, 655, "B-fraction"), (497, 710, "= 11~15%"),
                          (1736, 647, "B-fraction"), (1737, 703, "= 25~29%")],
                         font="DejaVu Sans Condensed, DejaVu Sans", fontSize=45, color="black",
                         align="center", baseline="alphabetic"))
layers.append(text_layer([(667, 783, "Data points are well described"), (668, 836, "over all ctau regions"),
                          (1669, 775, "Circled area is over-estimated"), (1669, 827, "by total fit (black curve)")],
                         font=SLIDE_FONT, fontSize=43, color="#cc0000",
                         align="center", baseline="alphabetic"))

chart = (alt.layer(*layers)
         .resolve_scale(x="independent", y="independent")
         .properties(width=W, height=H, padding=0, background="white",
                     autosize=alt.AutoSizeParams(type="none"))
         .configure_view(strokeWidth=0))

chart.save("out.html", embed_options={"renderer": "svg", "actions": False})
